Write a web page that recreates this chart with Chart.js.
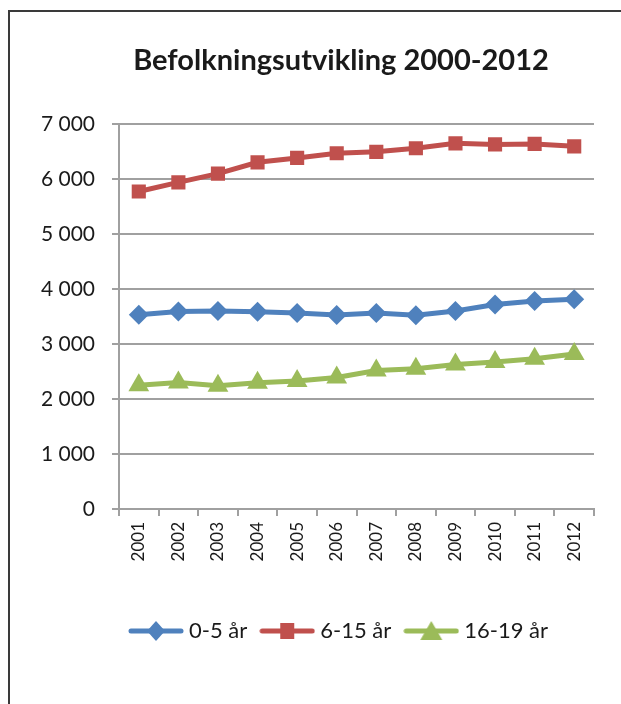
<!DOCTYPE html>
<html><head><meta charset="utf-8">
<script src="https://cdn.jsdelivr.net/npm/chart.js@4.4.1/dist/chart.umd.min.js"></script>
<style>
html,body{margin:0;padding:0;background:#fff;}
#wrap{position:absolute;left:0;top:0;width:621px;height:704px;overflow:hidden;}
#frame{position:absolute;left:8px;top:10px;width:700px;height:800px;border:2px solid #3a3a3a;box-sizing:border-box;}
canvas{position:absolute;left:0;top:0;}
</style></head>
<body><div id="wrap"><div id="frame"></div><canvas id="c" width="621" height="704"></canvas></div>
<script>
const years = ["2001","2002","2003","2004","2005","2006","2007","2008","2009","2010","2011","2012"];
const age0to5 = [3530,3590,3600,3585,3560,3525,3560,3520,3600,3715,3780,3810];
const age6to15 = [5770,5935,6095,6300,6380,6465,6490,6555,6645,6625,6635,6590];
const age16to19 = [2250,2300,2240,2295,2325,2390,2515,2550,2625,2670,2730,2815];
const seriesNames = ["0-5 år","6-15 år","16-19 år"];
const yTicks = [0,1000,2000,3000,4000,5000,6000,7000];

const colors = ["#4f81bd","#c0504d","#9bbb59"];
const styles = ["rectRot","rect","triangle"];
const radii = [10,10,12];
const FONT = "Lato, Calibri, 'Open Sans', sans-serif";
const PAD_LEFT = 61, PAD_RIGHT = 0, PAD_BOTTOM = 52;
const AREA_LEFT = 119, AREA_RIGHT = 594, AREA_BOTTOM = 509;

function legendIcon(color, style){
  const cv = document.createElement('canvas');
  cv.width = 56; cv.height = 24;
  const ctx = cv.getContext('2d');
  ctx.strokeStyle = color; ctx.lineWidth = 5; ctx.lineCap = 'round';
  ctx.beginPath(); ctx.moveTo(3,12); ctx.lineTo(53,12); ctx.stroke();
  ctx.fillStyle = color;
  ctx.beginPath();
  if(style==='rectRot'){ ctx.moveTo(28,2);ctx.lineTo(37,12);ctx.lineTo(28,22);ctx.lineTo(19,12);}
  else if(style==='rect'){ ctx.rect(21,4,14,16);}
  else { ctx.moveTo(28,2);ctx.lineTo(39,21);ctx.lineTo(17,21);}
  ctx.closePath(); ctx.fill();
  return cv;
}

const dataArrays=[age0to5,age6to15,age16to19];
new Chart(document.getElementById('c'),{
  type:'line',
  data:{labels:years,datasets:dataArrays.map((d,i)=>({
    label:seriesNames[i],data:d,borderColor:colors[i],backgroundColor:colors[i],
    borderWidth:5,pointStyle:styles[i],pointRadius:radii[i],pointHoverRadius:radii[i],
    pointBackgroundColor:colors[i],pointBorderColor:colors[i],pointBorderWidth:0,tension:0
  }))},
  options:{
    responsive:false,animation:false,
    layout:{padding:{left:PAD_LEFT,right:PAD_RIGHT,top:0,bottom:PAD_BOTTOM}},
    plugins:{
      title:{display:true,text:'Befolkningsutvikling 2000-2012',color:'#1a1a1a',
        font:{family:FONT,size:29,weight:'bold'},padding:{top:43,bottom:46}},
      legend:{position:'bottom',labels:{usePointStyle:true,pointStyleWidth:44,color:'#1a1a1a',padding:18,
        font:{family:FONT,size:22},
        generateLabels:(chart)=>chart.data.datasets.map((ds,i)=>({text:ds.label,pointStyle:legendIcon(colors[i],styles[i]),fontColor:'#1a1a1a',lineWidth:0,strokeStyle:'transparent',fillStyle:'transparent',datasetIndex:i}))},
        },
      tooltip:{enabled:false}
    },
    scales:{
      x:{offset:true,
        afterFit:(s)=>{ const ch=s.chart; s.height = ch.height - AREA_BOTTOM - ch.legend.height - PAD_BOTTOM; },
        grid:{display:true,drawOnChartArea:false,offset:true,color:'#a0a0a0',lineWidth:2,tickLength:7},
        border:{color:'#a0a0a0',width:2},
        ticks:{color:'#1a1a1a',font:{family:FONT,size:17},maxRotation:90,minRotation:90,padding:6,autoSkip:false}},
      y:{min:0,max:7000,
        afterBuildTicks:(s)=>{s.ticks=yTicks.map(v=>({value:v}));},
        afterFit:(s)=>{ s.width = AREA_LEFT - PAD_LEFT; s._computeLabelArea = ()=>undefined; },
        grid:{color:'#a0a0a0',lineWidth:2,tickLength:7},
        border:{color:'#a0a0a0',width:2},
        ticks:{color:'#1a1a1a',font:{family:FONT,size:21},padding:17,
          callback:(v)=>String(v).replace(/\B(?=(\d{3})+(?!\d))/g,' ')}},
      yRight:{position:'right',display:true,min:0,max:7000,
        afterFit:(s)=>{ s.width = s.chart.width - PAD_RIGHT - AREA_RIGHT; },
        grid:{display:false},border:{display:false},ticks:{display:false}}
    }
  }
});
</script></body></html>
